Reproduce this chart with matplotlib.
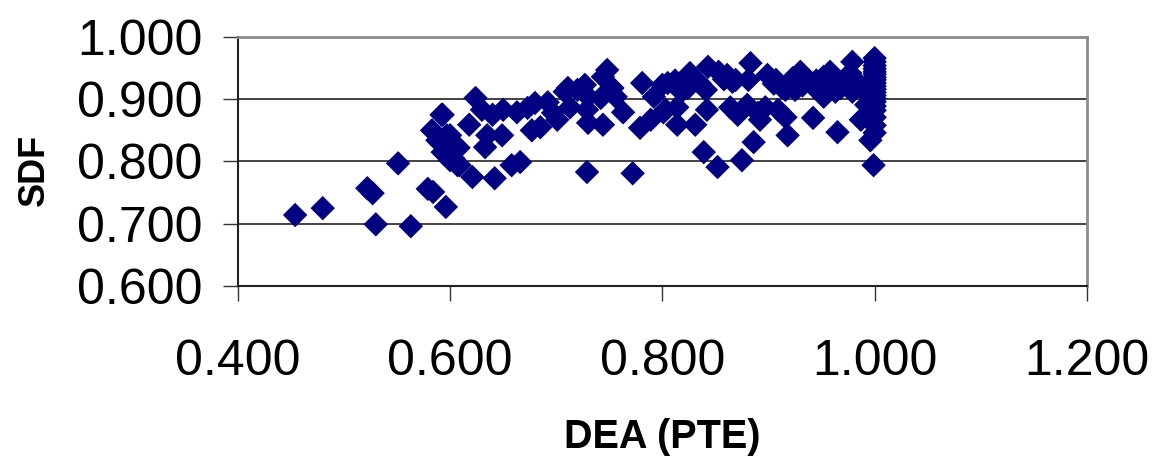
import numpy as np
import matplotlib
matplotlib.use("Agg")
import matplotlib.pyplot as plt

# DEA (PTE) vs SDF efficiency scores
dea = [0.454, 0.480, 0.522, 0.527, 0.530, 0.551, 0.563, 0.579, 0.584, 0.596,
       0.592, 0.583, 0.597, 0.588, 0.593, 0.600, 0.607, 0.593, 0.600, 0.608,
       0.603, 0.609, 0.621, 0.624, 0.618, 0.630, 0.640, 0.635, 0.633, 0.649,
       0.642, 0.650, 0.658, 0.666, 0.663, 0.673, 0.677, 0.680, 0.692, 0.685,
       0.697, 0.701, 0.708, 0.713, 0.711, 0.720, 0.727, 0.730, 0.729, 0.730,
       0.729, 0.748, 0.744, 0.742, 0.744, 0.753, 0.756, 0.763, 0.772, 0.781,
       0.779, 0.789, 0.792, 0.800, 0.801, 0.805, 0.803, 0.814, 0.814, 0.826,
       0.824, 0.831, 0.839, 0.842, 0.843, 0.841, 0.852, 0.853, 0.861, 0.864,
       0.869, 0.871, 0.875, 0.880, 0.883, 0.881, 0.886, 0.890, 0.892, 0.897,
       0.899, 0.907, 0.909, 0.916, 0.918, 0.916, 0.923, 0.930, 0.928, 0.937,
       0.942, 0.944, 0.952, 0.952, 0.958, 0.963, 0.965, 0.975, 0.979, 0.977,
       0.979, 0.987, 0.992, 0.996, 0.999,
       0.905, 0.912, 0.920, 0.925, 0.932, 0.940, 0.945, 0.950, 0.955, 0.960,
       0.968, 0.970, 0.985, 0.990, 0.995, 0.812, 0.818, 0.835, 0.858, 0.866,
       1.000, 1.000, 1.000, 1.000, 1.000, 1.000, 1.000, 1.000, 1.000, 1.000,
       1.000, 1.000, 1.000, 1.000, 1.000, 1.000, 1.000, 1.000, 1.000, 1.000]
sdf = [0.714, 0.725, 0.757, 0.749, 0.699, 0.797, 0.696, 0.756, 0.751, 0.727,
       0.875, 0.850, 0.842, 0.834, 0.815, 0.802, 0.794, 0.875, 0.842, 0.822,
       0.805, 0.794, 0.775, 0.902, 0.859, 0.883, 0.875, 0.842, 0.823, 0.842,
       0.773, 0.883, 0.794, 0.799, 0.879, 0.886, 0.850, 0.894, 0.895, 0.855,
       0.878, 0.867, 0.912, 0.887, 0.918, 0.915, 0.923, 0.904, 0.883, 0.862,
       0.783, 0.947, 0.936, 0.902, 0.859, 0.918, 0.904, 0.879, 0.781, 0.926,
       0.854, 0.867, 0.904, 0.923, 0.879, 0.926, 0.883, 0.887, 0.859, 0.942,
       0.918, 0.859, 0.815, 0.883, 0.952, 0.915, 0.791, 0.944, 0.939, 0.887,
       0.931, 0.875, 0.802, 0.891, 0.958, 0.931, 0.831, 0.878, 0.867, 0.887,
       0.939, 0.931, 0.883, 0.871, 0.842, 0.915, 0.934, 0.944, 0.920, 0.931,
       0.870, 0.918, 0.936, 0.904, 0.944, 0.912, 0.847, 0.931, 0.960, 0.942,
       0.912, 0.867, 0.891, 0.834, 0.794,
       0.925, 0.920, 0.925, 0.915, 0.922, 0.925, 0.930, 0.918, 0.925, 0.930,
       0.918, 0.928, 0.925, 0.915, 0.905, 0.930, 0.912, 0.926, 0.932, 0.928,
       0.966, 0.960, 0.954, 0.949, 0.944, 0.940, 0.935, 0.931, 0.926, 0.921,
       0.916, 0.911, 0.906, 0.901, 0.896, 0.889, 0.882, 0.871, 0.858, 0.846]

x_ticks = [0.4, 0.6, 0.8, 1.0, 1.2]
y_ticks = [0.6, 0.7, 0.8, 0.9, 1.0]

plt.rcParams['font.family'] = ['Liberation Sans', 'DejaVu Sans']

fig = plt.figure(figsize=(11.6, 4.62), dpi=100)
ax = fig.add_axes([0.205, 0.381, 0.732, 0.539])

ax.scatter(dea, sdf, marker='D', s=155, color='#000080', edgecolors='none',
           zorder=3, clip_on=False)

ax.set_xlim(0.4, 1.2)
ax.set_ylim(0.6, 1.0)
ax.set_xticks(x_ticks)
ax.set_yticks(y_ticks)
ax.set_xticklabels([f"{v:.3f}" for v in x_ticks])
ax.set_yticklabels([f"{v:.3f}" for v in y_ticks])

ax.tick_params(axis='both', direction='out', length=11, width=1,
               color='#333333', labelsize=36)
ax.tick_params(axis='x', pad=27)
ax.tick_params(axis='y', pad=14.5)

ax.grid(axis='y', color='#222222', linewidth=1.2)
ax.set_axisbelow(True)

for side in ['top', 'right']:
    ax.spines[side].set_color('#8c8c8c')
    ax.spines[side].set_linewidth(2)
for side in ['left', 'bottom']:
    ax.spines[side].set_color('#222222')
    ax.spines[side].set_linewidth(1.5)

ax.set_xlabel('DEA (PTE)', fontsize=28.5, fontweight='bold')
ax.set_ylabel('SDF', fontsize=26, fontweight='bold')
ax.xaxis.label.set_verticalalignment('center')
ax.yaxis.label.set_verticalalignment('center')
ax.xaxis.set_label_coords(0.5, -0.606)
ax.yaxis.set_label_coords(-0.240, 0.466)

fig.savefig('out.png', dpi=100)
